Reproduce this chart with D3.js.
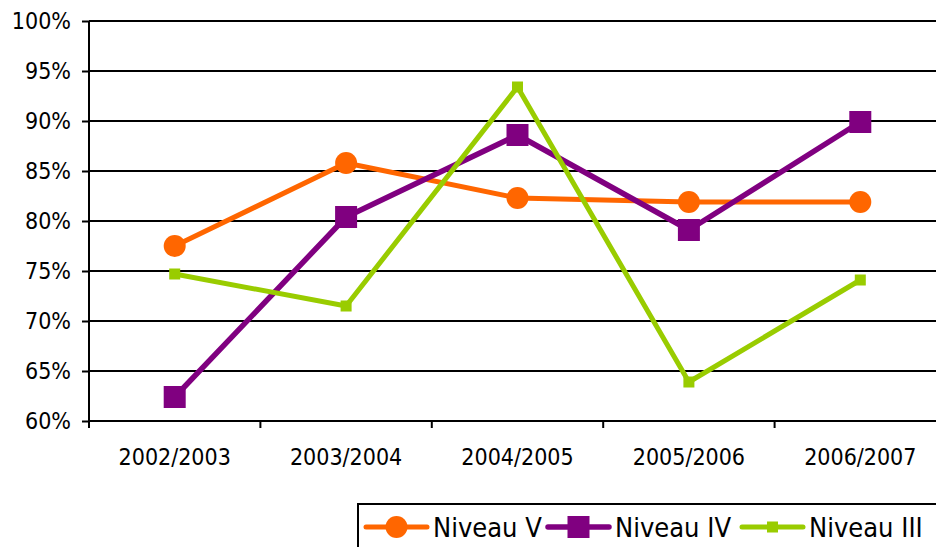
<!DOCTYPE html>
<html><head><meta charset="utf-8">
<script src="https://cdn.jsdelivr.net/npm/d3@7"></script>
<style>
html,body{margin:0;padding:0;background:#fff;}
svg{display:block;}
text{font-family:"DejaVu Sans Condensed","DejaVu Sans",sans-serif;}
</style></head>
<body><svg id="c" width="936" height="547"></svg>
<script>
const categories = ["2002/2003","2003/2004","2004/2005","2005/2006","2006/2007"];
const niveauV   = [77.5, 85.8, 82.3, 81.9, 81.9];
const niveauIV  = [62.4, 80.4, 88.6, 79.1, 89.9];
const niveauIII = [74.7, 71.5, 93.4, 63.9, 74.1];
const yTicks = [60,65,70,75,80,85,90,95,100];
const seriesNames = ["Niveau V","Niveau IV","Niveau III"];

const series = [
  {name:seriesNames[0], values:niveauV,   color:"#FF6600", marker:"circle", size:11, width:5},
  {name:seriesNames[1], values:niveauIV,  color:"#800080", marker:"square", size:22, width:5.5},
  {name:seriesNames[2], values:niveauIII, color:"#99CC00", marker:"square", size:11, width:5}
];

const svg = d3.select("#c");
const pL = 89, pR = 946, pT = 21, pB = 421;

const x = d3.scaleBand().domain(categories).range([pL, pR]);
const y = d3.scaleLinear().domain([60,100]).range([pB, pT]);

// gridlines
svg.append("g").selectAll("line").data(yTicks.filter(t=>t>60)).join("line")
  .attr("x1", pL).attr("x2", pR)
  .attr("y1", d=>y(d)).attr("y2", d=>y(d))
  .attr("stroke", "#000").attr("stroke-width", 2);

// y axis
const yAxis = d3.axisLeft(y).tickValues(yTicks).tickSize(7).tickPadding(11)
  .tickFormat(d=>d+"%");
const gy = svg.append("g").attr("transform", `translate(${pL},0)`).call(yAxis);
gy.select(".domain").attr("stroke","#000").attr("stroke-width",2).attr("d", `M0,${pT}V${pB}`);
gy.selectAll(".tick line").attr("stroke","#000").attr("stroke-width",2);
gy.selectAll(".tick text").attr("font-size", 23).attr("fill","#000")
  .attr("font-family", '"DejaVu Sans Condensed","DejaVu Sans",sans-serif');

// x axis
const xAxis = d3.axisBottom(x).tickSize(0).tickPadding(0);
const gx = svg.append("g").attr("transform", `translate(0,${pB})`).call(xAxis);
gx.select(".domain").attr("stroke","#000").attr("stroke-width",2).attr("d", `M${pL},0H${pR}`);
gx.selectAll(".tick text").attr("font-size", 23).attr("fill","#000").attr("dy", null)
  .attr("y", 44)
  .attr("font-family", '"DejaVu Sans Condensed","DejaVu Sans",sans-serif');
// tick marks at band boundaries
const bounds = categories.map(c=>x(c)).concat([pR]);
svg.append("g").selectAll("line").data(bounds).join("line")
  .attr("x1", d=>d).attr("x2", d=>d).attr("y1", pB).attr("y2", pB+7)
  .attr("stroke","#000").attr("stroke-width",2);

const cx = c => x(c) + x.bandwidth()/2;

function drawMarker(g, s, px, py) {
  if (s.marker === "circle") {
    g.append("circle").attr("cx", px).attr("cy", py).attr("r", s.size).attr("fill", s.color);
  } else {
    g.append("rect").attr("x", px - s.size/2).attr("y", py - s.size/2)
      .attr("width", s.size).attr("height", s.size).attr("fill", s.color);
  }
}

const line = d3.line().x((d,i)=>cx(categories[i])).y(d=>y(d));
series.forEach(s=>{
  const g = svg.append("g");
  g.append("path").attr("d", line(s.values)).attr("fill","none")
    .attr("stroke", s.color).attr("stroke-width", s.width).attr("stroke-linejoin","round");
  s.values.forEach((v,i)=>drawMarker(g, s, cx(categories[i]), y(v)));
});

// legend
const lg = svg.append("g");
lg.append("rect").attr("x", 358).attr("y", 504).attr("width", 600).attr("height", 60)
  .attr("fill","#fff").attr("stroke","#000").attr("stroke-width",2);
const legendX = [366, 548, 742];
series.forEach((s,i)=>{
  const lx = legendX[i], ly = 527;
  const g = lg.append("g");
  g.append("line").attr("x1", lx).attr("x2", lx+61).attr("y1", ly).attr("y2", ly)
    .attr("stroke", s.color).attr("stroke-width", s.width).attr("stroke-linecap","round");
  drawMarker(g, s, lx+30.5, ly);
  g.append("text").attr("x", lx+67).attr("y", ly).attr("dy","0.36em")
    .attr("font-size", 27).attr("fill","#000").text(s.name);
});
</script></body></html>
